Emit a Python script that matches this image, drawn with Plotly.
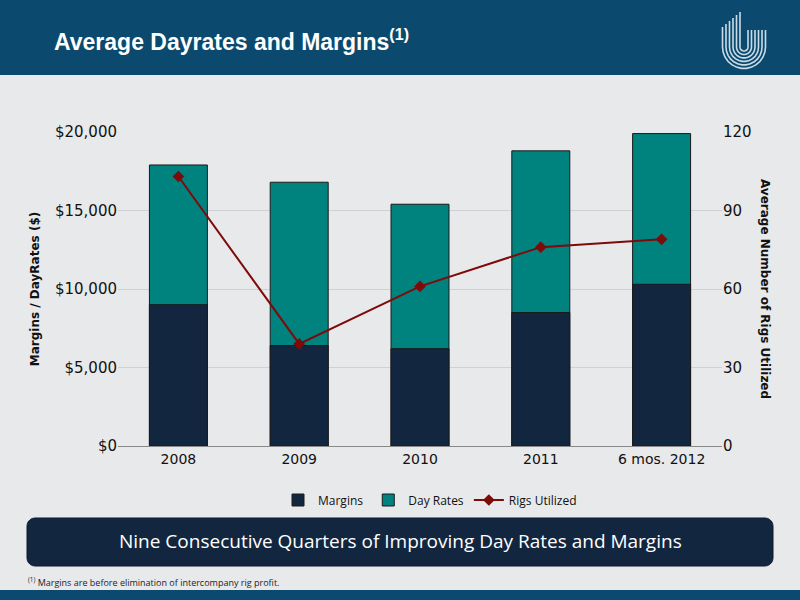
import plotly.graph_objects as go
import numpy as np

categories = ["2008", "2009", "2010", "2011", "6 mos. 2012"]
margins = [9000, 6400, 6200, 8500, 10300]
day_rates = [17900, 16800, 15400, 18800, 19900]
rigs = [103, 39, 61, 76, 79]

L, R, T, B = 118, 78, 132, 154
PW, PH = 800 - L - R, 600 - T - B
def px(x): return (x - L) / PW
def py(y): return (600 - B - y) / PH

fig = go.Figure()
fig.add_bar(x=categories, y=day_rates, name="Day Rates", legendrank=2, marker=dict(color="#00827f", line=dict(color="#1a1a1a", width=1)), width=0.48)
fig.add_bar(x=categories, y=margins, name="Margins", legendrank=1, marker=dict(color="#13263f", line=dict(color="#1a1a1a", width=1)), width=0.48)
fig.add_scatter(x=categories, y=rigs, name="Rigs Utilized", legendrank=3, yaxis="y2", mode="lines+markers",
                line=dict(color="#7f0a0a", width=2), marker=dict(symbol="diamond", size=9, color="#7f0a0a"))

shapes = []
shapes.append(dict(type="rect", xref="paper", yref="paper", x0=px(0), x1=px(800), y0=py(75), y1=py(0), fillcolor="#0b4a6e", line_width=0, layer="below"))
shapes.append(dict(type="rect", xref="paper", yref="paper", x0=px(0), x1=px(800), y0=py(600), y1=py(590), fillcolor="#0b4a6e", line_width=0, layer="below"))
x0, x1, y0, y1, r = 27, 773, 518, 566, 8
pts = []
for cx, cy, a0 in [(x1 - r, y0 + r, -90), (x1 - r, y1 - r, 0), (x0 + r, y1 - r, 90), (x0 + r, y0 + r, 180)]:
    for a in np.linspace(a0, a0 + 90, 6):
        pts.append((cx + r * np.cos(np.radians(a)), cy + r * np.sin(np.radians(a))))
path = "M " + " L ".join(f"{px(a):.5f},{py(b):.5f}" for a, b in pts) + " Z"
shapes.append(dict(type="path", xref="paper", yref="paper", path=path, fillcolor="#13263f", line=dict(color="#0b1a30", width=1)))
cx, cy = 744, 47
for i, rr in enumerate([4, 7.5, 11, 14.5, 18, 21.5]):
    top_left = 12 + i * 3
    p = [(cx - rr, top_left), (cx - rr, cy)]
    for a in np.linspace(180, 0, 14):
        p.append((cx + rr * np.cos(np.radians(a)), cy + rr * np.sin(np.radians(a))))
    p.append((cx + rr, 30))
    d = "M " + " L ".join(f"{px(a):.5f},{py(b):.5f}" for a, b in p)
    shapes.append(dict(type="path", xref="paper", yref="paper", path=d, line=dict(color="#c9dbe6", width=1.6)))

ann = [
    dict(text="<b>Average Dayrates and Margins<sup>(1)</sup></b>", x=px(52), y=py(40), xref="paper", yref="paper",
         xanchor="left", yanchor="middle", showarrow=False, font=dict(family="Liberation Sans, Arial", size=23, color="white")),
    dict(text="Nine Consecutive Quarters of Improving Day Rates and Margins", x=px(400), y=py(556), xref="paper", yref="paper",
         showarrow=False, font=dict(family="Open Sans", size=19, color="white")),
    dict(text="<sup>(1)</sup> Margins are before elimination of intercompany rig profit.", x=px(26), y=py(582), xref="paper", yref="paper",
         xanchor="left", yanchor="middle", showarrow=False, font=dict(family="Open Sans", size=9, color="#222")),
    dict(text="<b>Average Number of Rigs Utilized</b>", x=px(774), y=0.5, xref="paper", yref="paper", textangle=90,
         showarrow=False, font=dict(size=12, color="#111")),
]

fig.update_layout(
    width=800, height=600, margin=dict(l=L, r=R, t=T, b=B),
    paper_bgcolor="#e8e9eb", plot_bgcolor="#e8e9eb",
    barmode="overlay", shapes=shapes, annotations=ann,
    font=dict(family="DejaVu Sans", color="#111"),
    xaxis=dict(showline=True, linecolor="#888", ticks="", tickfont=dict(size=14)),
    yaxis=dict(range=[0, 20000], tickvals=[0, 5000, 10000, 15000, 20000], tickformat="$,.0f", tickfont=dict(size=15),
               gridcolor="#cfd1d4", zeroline=False, showline=False,
               title=dict(text="<b>Margins / DayRates ($)</b>", font=dict(size=12), standoff=12)),
    yaxis2=dict(range=[0, 120], tickvals=[0, 30, 60, 90, 120], overlaying="y", side="right", showgrid=False,
                tickfont=dict(size=15)),
    legend=dict(orientation="h", x=px(430), xanchor="center", y=py(500), yanchor="middle",
                font=dict(family="Open Sans", size=12), bgcolor="rgba(0,0,0,0)"),
)
fig.write_html("out.html", config={"displayModeBar": False}, post_script="document.body.style.margin='0';")
